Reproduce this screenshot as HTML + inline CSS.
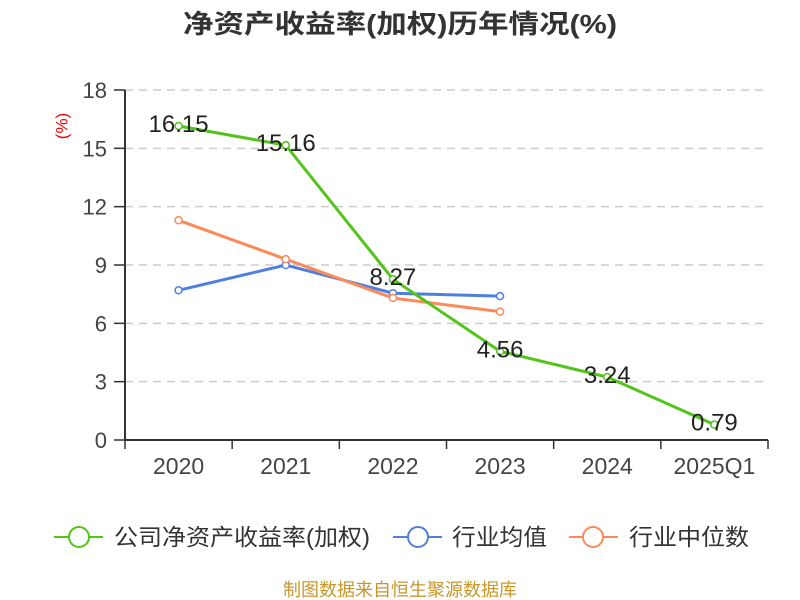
<!DOCTYPE html>
<html><head><meta charset="utf-8"><style>
body{margin:0;background:#fff}
svg{display:block;font-family:"Liberation Sans","Noto Sans CJK SC",sans-serif}
</style></head><body>
<svg id="chart" width="800" height="600">
<text x="400" y="33" text-anchor="middle" font-size="26" font-weight="bold" fill="#333" textLength="434" lengthAdjust="spacingAndGlyphs">净资产收益率(加权)历年情况(%)</text>
<text transform="translate(63,126) rotate(-90)" text-anchor="middle" dominant-baseline="middle" font-size="17" fill="#e00">(%)</text>
<g id="grid"></g><g id="axes"></g><g id="series"></g>
<g>
 <g><line x1="54" y1="537" x2="103" y2="537" stroke="#52c41a" stroke-width="2"/><circle cx="79" cy="537" r="10" fill="#fff" stroke="#52c41a" stroke-width="2"/><text x="114" y="545" font-size="23" fill="#333" textLength="256" lengthAdjust="spacingAndGlyphs">公司净资产收益率(加权)</text></g>
 <g><line x1="393" y1="537" x2="442" y2="537" stroke="#4e7fe0" stroke-width="2"/><circle cx="418" cy="537" r="10" fill="#fff" stroke="#4e7fe0" stroke-width="2"/><text x="452" y="545" font-size="23" fill="#333" textLength="95" lengthAdjust="spacingAndGlyphs">行业均值</text></g>
 <g><line x1="569" y1="537" x2="618" y2="537" stroke="#fb8a5a" stroke-width="2"/><circle cx="593" cy="537" r="10" fill="#fff" stroke="#fb8a5a" stroke-width="2"/><text x="629" y="545" font-size="23" fill="#333" textLength="120" lengthAdjust="spacingAndGlyphs">行业中位数</text></g>
</g>
<text x="400" y="596" text-anchor="middle" font-size="18" fill="#c8962a">制图数据来自恒生聚源数据库</text>
</svg>
<script>
const categories=["2020","2021","2022","2023","2024","2025Q1"];
const yTicks=[0,3,6,9,12,15,18];
const companyValues=[16.15,15.16,8.27,4.56,3.24,0.79];
const industryAvg=[7.7,9.0,7.55,7.4];
const industryMedian=[11.3,9.3,7.3,6.6];
const NS="http://www.w3.org/2000/svg";
const L=125,R=768,T=90,B=440;
const bw=(R-L)/categories.length;
const xs=i=>L+bw*(i+0.5);
const ys=v=>B-(v/18)*(B-T);
function mk(tag,attrs,parent){const e=document.createElementNS(NS,tag);for(const k in attrs)e.setAttribute(k,attrs[k]);parent.appendChild(e);return e;}
const grid=document.getElementById('grid'),axes=document.getElementById('axes'),ser=document.getElementById('series');
yTicks.forEach(t=>{const y=ys(t);
 if(t>0){const g=mk('line',{x1:L,x2:R,y1:y,y2:y,stroke:'#ccc','stroke-dasharray':'8,6','stroke-width':1.5},grid);
 
 }
 const tk=mk('line',{x1:114,x2:L,y1:y,y2:y,stroke:'#333','stroke-width':1.5},axes);
 
 
 const tx=mk('text',{x:107,y:y+8,'text-anchor':'end','font-size':22,fill:'#444'},axes);tx.textContent=t;
 
 
});
const ya=mk('line',{x1:L,x2:L,y1:T,y2:B,stroke:'#333','stroke-width':2},axes);


const xa=mk('line',{x1:L,x2:R,y1:B,y2:B,stroke:'#333','stroke-width':2},axes);


for(let i=0;i<=categories.length;i++){const x=L+bw*i;const t=mk('line',{x1:x,x2:x,y1:B,y2:B+9,stroke:'#333','stroke-width':1.5},axes);
 
 }
categories.forEach((c,i)=>{const t=mk('text',{x:xs(i),y:474,'text-anchor':'middle','font-size':23,fill:'#444'},axes);t.textContent=c;
 
 });
function series(vals,color,name,labels){
 const pts=vals.map((v,i)=>xs(i)+','+ys(v)).join(' ');
 const pl=mk('polyline',{points:pts,fill:'none',stroke:color,'stroke-width':3},ser);
 
 
 vals.forEach((v,i)=>{const c=mk('circle',{cx:xs(i),cy:ys(v),r:3.5,fill:'#fff',stroke:color,'stroke-width':1.5},ser);
  
  });
 if(labels)vals.forEach((v,i)=>{const t=mk('text',{x:xs(i),y:ys(v)+6,'text-anchor':'middle','font-size':24,fill:'#222'},ser);t.textContent=v.toFixed(2);
  
  });
}
series(industryAvg,'#4e7fe0','industry-avg',false);
series(industryMedian,'#fb8a5a','industry-median',false);
series(companyValues,'#52c41a','company-roe',true);
</script>
</body></html>
